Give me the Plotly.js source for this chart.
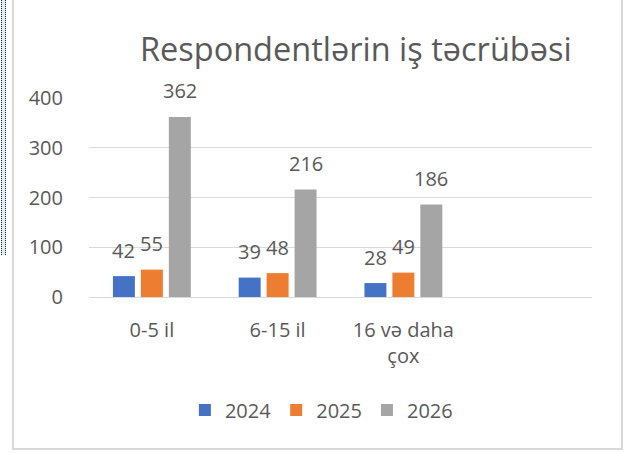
<!DOCTYPE html>
<html>
<head>
<meta charset="utf-8">
<script src="https://cdn.plot.ly/plotly-3.0.1.min.js"></script>
<style>
  html, body { margin: 0; padding: 0; background: #fff; }
  #wrap { position: relative; width: 632px; height: 453px; overflow: hidden; }
  #chart { position: absolute; left: 0; top: 0; width: 632px; height: 453px; }
  #frame { position: absolute; left: 12px; top: -10px; width: 607px; height: 456px;
           border: 2px solid #d9d9d9; pointer-events: none; }
  #sel { position: absolute; left: 1px; top: 0; width: 3px; height: 255px;
         background: #dcebf7; border-left: 1px dotted #222; border-right: 1px dotted #222;
         pointer-events: none; }
</style>
</head>
<body>
<div id="wrap">
  <div id="chart"></div>
  <div id="frame"></div>
  <div id="sel"></div>
</div>
<script>
const chartTitle = "Respondentlərin iş təcrübəsi";
const categories = ["0-5 il", "6-15 il", "16 və daha<br>çox", " "];
const seriesNames = ["2024", "2025", "2026"];
const values2024 = [42, 39, 28];
const values2025 = [55, 48, 49];
const values2026 = [362, 216, 186];
const seriesColors = ["#4472C4", "#ED7D31", "#A5A5A5"];
const yTicks = [0, 100, 200, 300, 400];

const textColor = "#595959";
const fontFamily = "'Open Sans', 'Noto Sans', sans-serif";
const allValues = [values2024, values2025, values2026];
const dataCats = categories.slice(0, 3);

const traces = allValues.map((vals, i) => ({
  type: "bar",
  name: seriesNames[i],
  x: dataCats,
  y: vals,
  marker: { color: seriesColors[i], line: { width: 0 } },
  hoverinfo: "x+y+name"
}));

const slot = 28; // px offset between bars within a group
const annotations = [];
allValues.forEach((vals, i) => {
  vals.forEach((v, j) => {
    annotations.push({
      x: dataCats[j], y: v, xref: "x", yref: "y",
      text: String(v), showarrow: false,
      xshift: (i - 1) * slot, yshift: 26, yanchor: "middle",
      font: { family: fontFamily, size: 20, color: textColor }
    });
  });
});

const layout = {
  width: 632, height: 453,
  margin: { l: 89, r: 40, t: 98, b: 156, pad: 0 },
  paper_bgcolor: "#ffffff",
  plot_bgcolor: "#ffffff",
  title: {
    text: chartTitle,
    font: { family: fontFamily, size: 32.5, color: textColor },
    x: 0.563, xref: "container", xanchor: "center",
    y: 1 - 50 / 453, yref: "container", yanchor: "middle"
  },
  barmode: "group",
  bargap: 0.333,
  bargroupgap: 0.214,
  xaxis: {
    type: "category",
    categoryorder: "array",
    categoryarray: categories,
    range: [-0.5, 3.5],
    showgrid: false,
    showline: true, linecolor: "#d9d9d9", linewidth: 1,
    ticks: "outside", ticklen: 15, tickcolor: "rgba(0,0,0,0)",
    tickfont: { family: fontFamily, size: 20, color: textColor },
    fixedrange: true
  },
  yaxis: {
    range: [0, 400],
    tickvals: yTicks,
    ticktext: yTicks.map(String),
    showgrid: true, gridcolor: "#d9d9d9", gridwidth: 1,
    zeroline: false, showline: false,
    ticks: "outside", ticklen: 21, tickcolor: "rgba(0,0,0,0)",
    tickfont: { family: fontFamily, size: 20, color: textColor },
    fixedrange: true
  },
  legend: {
    orientation: "h",
    x: 0.462, xanchor: "center",
    y: (297 - 410) / 199, yanchor: "middle",
    font: { family: fontFamily, size: 20, color: textColor },
    bgcolor: "rgba(0,0,0,0)"
  },
  annotations: annotations,
  showlegend: true
};

Plotly.newPlot("chart", traces, layout, { displayModeBar: false, staticPlot: true });
</script>
</body>
</html>
